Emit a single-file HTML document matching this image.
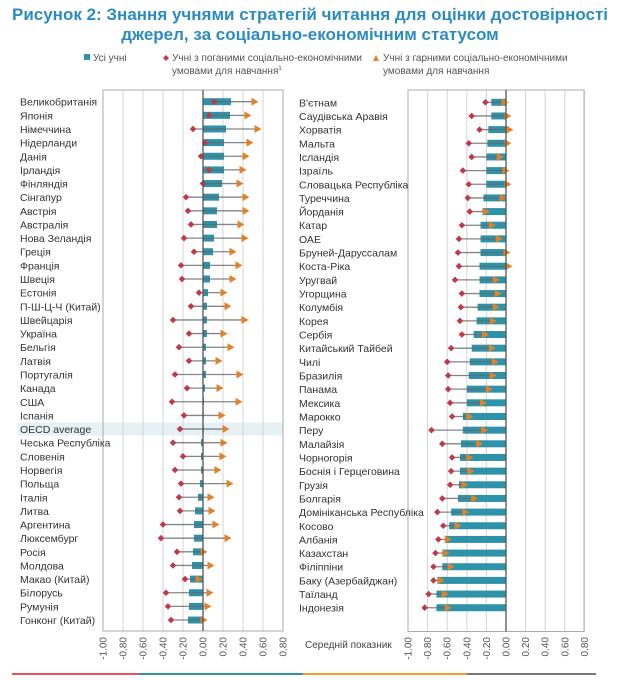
<!DOCTYPE html>
<html><head><meta charset="utf-8"><style>
body{margin:0;background:#fff;}
svg{display:block;font-family:"Liberation Sans",sans-serif;}
</style></head><body>
<svg id="s" width="620" height="680" viewBox="0 0 620 680" xmlns="http://www.w3.org/2000/svg">
<text x="310" y="20" text-anchor="middle" font-size="17" font-weight="bold" fill="#2b8cc4">Рисунок 2: Знання учнями стратегій читання для оцінки достовірності</text>
<text x="310" y="40" text-anchor="middle" font-size="17" font-weight="bold" fill="#2b8cc4">джерел, за соціально-економічним статусом</text>
<rect x="84" y="54" width="6" height="6" fill="#2e93a8"/>
<text x="93" y="61" font-size="10" fill="#555">Усі учні</text>
<path d="M166 55 l3 3 l-3 3 l-3 -3z" fill="#c0394b"/>
<text x="172" y="61" font-size="10" fill="#555">Учні з поганими соціально-економічними</text>
<text x="172" y="74" font-size="10" fill="#555">умовами для навчання<tspan font-size="6" dy="-4">1</tspan></text>
<path d="M373 61 l3 -6 l3 6z" fill="#e0822a"/>
<text x="383" y="61" font-size="10" fill="#555">Учні з гарними соціально-економічними</text>
<text x="383" y="74" font-size="10" fill="#555">умовами для навчання</text>
<text x="305" y="648" font-size="10" fill="#444">Середній показник</text>
<rect x="12" y="673" width="127" height="2" fill="#e8505f"/>
<rect x="139" y="673" width="164" height="2" fill="#2e93a8"/>
<rect x="303" y="673" width="164" height="2" fill="#f39c2c"/>
<rect x="467" y="673" width="129" height="2" fill="#777"/>
<g id="g"></g>
</svg>
<script>
var L=[["Великобританія",.28,.11,.52],["Японія",.27,.06,.45],["Німеччина",.23,-.10,.55],["Нідерланди",.21,.02,.47],["Данія",.21,-.02,.43],["Ірландія",.21,.06,.40],["Фінляндія",.19,0,.37],["Сінгапур",.16,-.17,.43],["Австрія",.14,-.15,.43],["Австралія",.14,-.12,.38],["Нова Зеландія",.11,-.19,.42],["Греція",.10,-.09,.30],["Франція",.07,-.22,.36],["Швеція",.07,-.21,.30],["Естонія",.05,-.04,.21],["П-Ш-Ц-Ч (Китай)",.04,-.12,.25],["Швейцарія",.04,-.30,.42],["Україна",.04,-.14,.21],["Бельгія",.03,-.24,.28],["Латвія",.03,-.14,.16],["Португалія",.03,-.28,.37],["Канада",.02,-.16,.17],["США",.01,-.31,.36],["Іспанія",0,-.19,.19],["OECD average",0,-.23,.23],["Чеська Республіка",-.02,-.30,.21],["Словенія",-.02,-.20,.20],["Норвегія",-.02,-.28,.15],["Польща",-.03,-.22,.27],["Італія",-.05,-.24,.08],["Литва",-.08,-.23,.09],["Аргентина",-.09,-.40,.13],["Люксембург",-.09,-.42,.25],["Росія",-.10,-.26,.01],["Молдова",-.11,-.30,.08],["Макао (Китай)",-.13,-.18,-.04],["Білорусь",-.14,-.37,.07],["Румунія",-.14,-.35,.05],["Гонконг (Китай)",-.15,-.32,.01]];
var R=[["В'єтнам",-.15,-.21,-.01],["Саудівська Аравія",-.15,-.35,.02],["Хорватія",-.18,-.27,.04],["Мальта",-.19,-.38,.02],["Ісландія",-.20,-.35,-.06],["Ізраїль",-.20,-.44,0],["Словацька Республіка",-.20,-.38,.02],["Туреччина",-.23,-.39,-.03],["Йорданія",-.24,-.37,-.20],["Катар",-.26,-.45,-.14],["ОАЕ",-.26,-.48,-.07],["Бруней-Даруссалам",-.26,-.49,.01],["Коста-Ріка",-.27,-.48,.03],["Уругвай",-.27,-.52,-.10],["Угорщина",-.27,-.45,-.08],["Колумбія",-.29,-.46,-.10],["Корея",-.30,-.47,-.13],["Сербія",-.33,-.45,-.21],["Китайський Тайбей",-.35,-.56,-.14],["Чилі",-.37,-.60,-.11],["Бразилія",-.38,-.59,-.13],["Панама",-.40,-.59,-.17],["Мексика",-.40,-.57,-.23],["Марокко",-.44,-.55,-.37],["Перу",-.44,-.76,-.22],["Малайзія",-.46,-.65,-.27],["Чорногорія",-.47,-.55,-.37],["Боснія і Герцеговина",-.47,-.56,-.36],["Грузія",-.48,-.57,-.42],["Болгарія",-.49,-.65,-.32],["Домініканська Республіка",-.56,-.70,-.41],["Косово",-.58,-.64,-.49],["Албанія",-.62,-.69,-.59],["Казахстан",-.65,-.72,-.61],["Філіппіни",-.65,-.74,-.56],["Баку (Азербайджан)",-.70,-.74,-.66],["Таїланд",-.71,-.79,-.62],["Індонезія",-.71,-.83,-.59]];
var h='';
function panel(D,x0,x1,z,u,y0,dy,lx,top,bot){
 for(var i=0;i<D.length;i++){if(D[i][0]=="OECD average"){var yy=y0+i*dy;h+='<rect x="18" y="'+(yy-6.5)+'" width="'+(x1-18)+'" height="13" fill="#e6f1f5"/>';}}
 for(var k=0;k<=9;k++){var v=-1+k*0.2,x=z+v*u;h+='<line x1="'+x+'" y1="'+top+'" x2="'+x+'" y2="'+bot+'" stroke="#d4d4d4" stroke-width="1"/>';
  h+='<text transform="translate('+(x+3.5)+',637) rotate(-90)" text-anchor="end" font-size="10" fill="#555">'+v.toFixed(2)+'</text>';}
 h+='<rect x="'+x0+'" y="'+top+'" width="'+(x1-x0)+'" height="'+(bot-top)+'" fill="none" stroke="#aaa" stroke-width="1"/>';
 for(var i=0;i<D.length;i++){var d=D[i],y=y0+i*dy,b=z+d[1]*u,p=z+d[2]*u,g=z+d[3]*u;
  h+='<text x="'+lx+'" y="'+(y+4)+'" font-size="10.5" fill="#333">'+d[0]+'</text>';
  h+='<rect x="'+Math.min(b,z)+'" y="'+(y-3.5)+'" width="'+Math.max(Math.abs(b-z),0.8)+'" height="7" fill="#2e93a8"/>';
  h+='<line x1="'+p+'" y1="'+y+'" x2="'+g+'" y2="'+y+'" stroke="#666" stroke-opacity="0.8" stroke-width="1.3"/>';
  h+='<path d="M'+p+' '+(y-3.3)+' l3.3 3.3 l-3.3 3.3 l-3.3 -3.3z" fill="#c0394b"/>';
  h+='<path d="M'+(g-3.5)+' '+(y-4)+' l7 4 l-7 4z" fill="#e0822a"/>';}
 h+='<line x1="'+z+'" y1="'+top+'" x2="'+z+'" y2="'+bot+'" stroke="#555" stroke-width="1.3"/>';
}
panel(L,103,283,203,100,101.7,13.64,20,90,631);
panel(R,408,584,506,98,102.3,13.66,299,90,631.5);
document.getElementById('g').innerHTML=h;
</script>
</body></html>
